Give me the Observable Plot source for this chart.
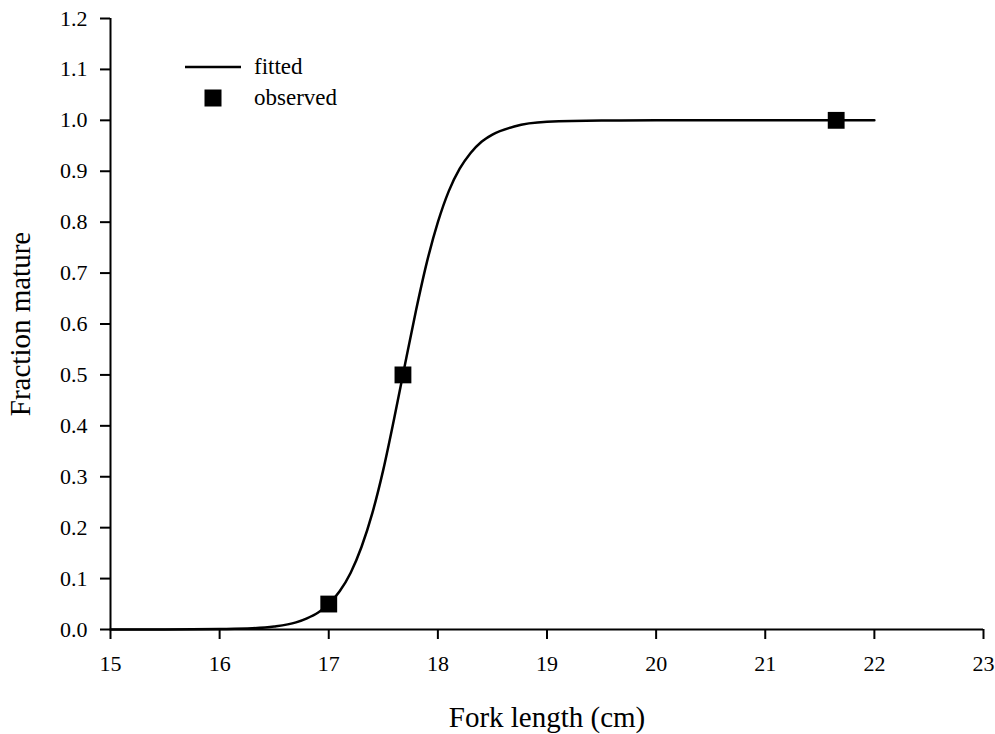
<!DOCTYPE html>
<html>
<head>
<meta charset="utf-8">
<script src="https://cdn.jsdelivr.net/npm/d3@7"></script>
<script src="https://cdn.jsdelivr.net/npm/@observablehq/plot@0.6"></script>
<style>
  body { margin: 0; background: white; font-family: "Liberation Serif", serif; }
  #wrap { position: relative; width: 995px; height: 734px; }
  #legend { position: absolute; left: 185px; top: 51px; font-size: 23px; color: black; }
  #legend .row { display: flex; align-items: center; height: 31px; }
  #legend svg { width: 56px; height: 20px; margin-right: 13px; }
  #chart svg text { font-family: "Liberation Serif", serif; }
</style>
</head>
<body>
<div id="wrap">
  <div id="chart"></div>
  <div id="legend">
    <div class="row"><svg viewBox="0 0 56 20"><line x1="0" x2="56" y1="10" y2="10" stroke="black" stroke-width="2.5"/></svg>fitted</div>
    <div class="row"><svg viewBox="0 0 56 20"><rect x="19.5" y="1.5" width="17" height="17" fill="black"/></svg>observed</div>
  </div>
</div>
<script>
// fitted maturity curve
const fitLength = [15.0, 15.5, 16.0, 16.3, 16.5, 16.7, 16.8, 16.9, 17.0, 17.1, 17.2, 17.3, 17.4, 17.5, 17.6, 17.7, 17.8, 17.9, 18.0, 18.1, 18.2, 18.3, 18.4, 18.5, 18.7, 19.0, 19.5, 20.0, 21.0, 22.0]
const fitFraction = [0.000, 0.0001, 0.001, 0.0025, 0.006, 0.014, 0.022, 0.033, 0.05, 0.075, 0.111, 0.162, 0.229, 0.314, 0.415, 0.522, 0.627, 0.722, 0.80, 0.861, 0.905, 0.936, 0.958, 0.972, 0.988, 0.997, 0.9996, 1.0, 1.0, 1.0]

// observed points
const obsLength = [17.0, 17.68, 21.65]
const obsFraction = [0.05, 0.5, 1.0]

const xTicks = [15, 16, 17, 18, 19, 20, 21, 22, 23]
const yTicks = [0, 0.1, 0.2, 0.3, 0.4, 0.5, 0.6, 0.7, 0.8, 0.9, 1.0, 1.1, 1.2]

const fitted = fitLength.map((d, i) => ({length: d, fraction: fitFraction[i]}))
const observed = obsLength.map((d, i) => ({length: d, fraction: obsFraction[i]}))

const serif = "Liberation Serif"

let chart = Plot.plot({
  width: 995,
  height: 734,
  marginLeft: 110,
  marginRight: 12,
  marginTop: 18,
  marginBottom: 105,
  style: {fontFamily: serif, fontSize: "22px", color: "black", background: "white"},
  x: {domain: [xTicks[0], xTicks[xTicks.length - 1]]},
  y: {domain: [yTicks[0], yTicks[yTicks.length - 1]]},
  marks: [
    Plot.axisX({ticks: xTicks, tickSize: 10, tickPadding: 16, strokeWidth: 2, fontSize: 22, fontFamily: serif, label: null}),
    Plot.axisY({ticks: yTicks, tickSize: 10, tickPadding: 13, strokeWidth: 2, fontSize: 22, fontFamily: serif, tickFormat: ".1f", label: null}),
    Plot.ruleX([xTicks[0]], {strokeWidth: 2}),
    Plot.ruleY([yTicks[0]], {strokeWidth: 2}),
    Plot.line(fitted, {x: "length", y: "fraction", curve: "monotone-x", strokeWidth: 2.5}),
    Plot.dot(observed, {x: "length", y: "fraction", symbol: "square", r: 9.5, fill: "black"}),
    Plot.text(["Fork length (cm)"], {frameAnchor: "bottom", dy: 88, lineAnchor: "middle", textAnchor: "middle", fontSize: 29, fontFamily: serif}),
    Plot.text(["Fraction mature"], {frameAnchor: "left", dx: -90, rotate: -90, lineAnchor: "middle", textAnchor: "middle", fontSize: 29, fontFamily: serif})
  ]
})
d3.select('#chart').append(() => chart)
</script>
</body>
</html>
